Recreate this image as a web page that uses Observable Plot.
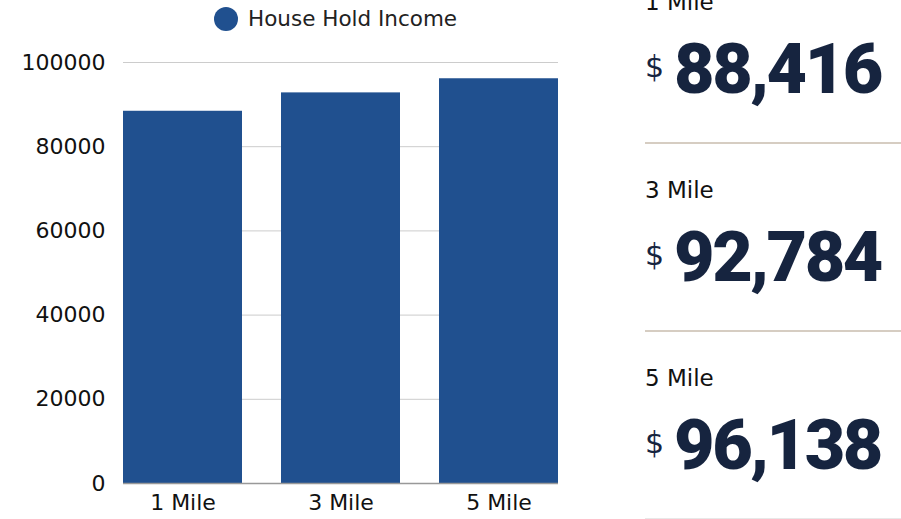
<!DOCTYPE html>
<html>
<head>
<meta charset="utf-8">
<script src="https://cdn.jsdelivr.net/npm/d3@7"></script>
<script src="https://cdn.jsdelivr.net/npm/@observablehq/plot@0.6"></script>
<style>
  html, body { margin: 0; padding: 0; background: #fff; }
  body { width: 901px; height: 519px; overflow: hidden; position: relative; font-family: "DejaVu Sans", sans-serif; }
  #chart { position: absolute; left: 0; top: 0; }
  #legend { position: absolute; left: 214px; top: 6px; display: flex; align-items: center; font-size: 21.5px; color: #222; }
  #legend .dot { width: 24px; height: 24px; border-radius: 50%; background: #20508f; margin-right: 10px; }
  .sec-label { position: absolute; left: 645px; font-size: 23px; color: #111; }
  .sec-value { position: absolute; left: 645px; display: flex; align-items: center; color: #16243f; }
  .sec-value .cur { font-size: 30px; margin-right: 10px; margin-top: -6px; }
  .sec-value .num { font-family: Roboto, sans-serif; font-weight: 900; font-size: 70px; letter-spacing: -2.5px; }
  .divider { position: absolute; left: 645px; width: 256px; height: 2px; background: #d6cdc2; }
</style>
</head>
<body>
<div id="chart"></div>
<div id="legend"><div class="dot"></div><span id="legend-text"></span></div>
<div id="panel"></div>
<script>
const categories = ["1 Mile", "3 Mile", "5 Mile"];
const values = [88416, 92784, 96138];
const seriesName = "House Hold Income";
const yTicks = [0, 20000, 40000, 60000, 80000, 100000];

const data = categories.map((c, i) => ({ category: c, value: values[i] }));

const plot = Plot.plot({
  width: 600,
  height: 519,
  marginLeft: 123,
  marginRight: 42,
  marginTop: 62,
  marginBottom: 36,
  style: { fontFamily: "DejaVu Sans, sans-serif", fontSize: "22px", color: "#111", background: "transparent" },
  x: { domain: categories, paddingInner: 0.25, paddingOuter: 0, label: null, tickSize: 0, tickPadding: 11 },
  y: { domain: [0, 100000], ticks: yTicks, label: null, tickSize: 0, tickPadding: 18, tickFormat: d => String(d) },
  marks: [
    Plot.gridY(yTicks.filter(t => t !== 0), { stroke: "#cccccc", strokeOpacity: 1, strokeWidth: 1 }),
    Plot.barY(data, { x: "category", y: "value", fill: "#20508f" }),
    Plot.ruleY([0], { stroke: "#999999", strokeWidth: 1.5 })
  ]
});
document.getElementById("chart").appendChild(plot);
document.getElementById("legend-text").textContent = seriesName;

const panel = document.getElementById("panel");
const fmt = d3.format(",");
const sectionTop = [-11, 177, 365];
categories.forEach((c, i) => {
  const t = sectionTop[i];
  const lab = document.createElement("div");
  lab.className = "sec-label";
  lab.style.top = t + "px";
  lab.textContent = c;
  panel.appendChild(lab);
  const val = document.createElement("div");
  val.className = "sec-value";
  val.style.top = (t + 39) + "px";
  val.innerHTML = `<span class="cur">$</span><span class="num">${fmt(values[i])}</span>`;
  panel.appendChild(val);
  const div = document.createElement("div");
  div.className = "divider";
  div.style.top = (t + 153) + "px";
  if (i === 2) div.style.background = "#e8e8e8";
  panel.appendChild(div);
});
</script>
</body>
</html>
